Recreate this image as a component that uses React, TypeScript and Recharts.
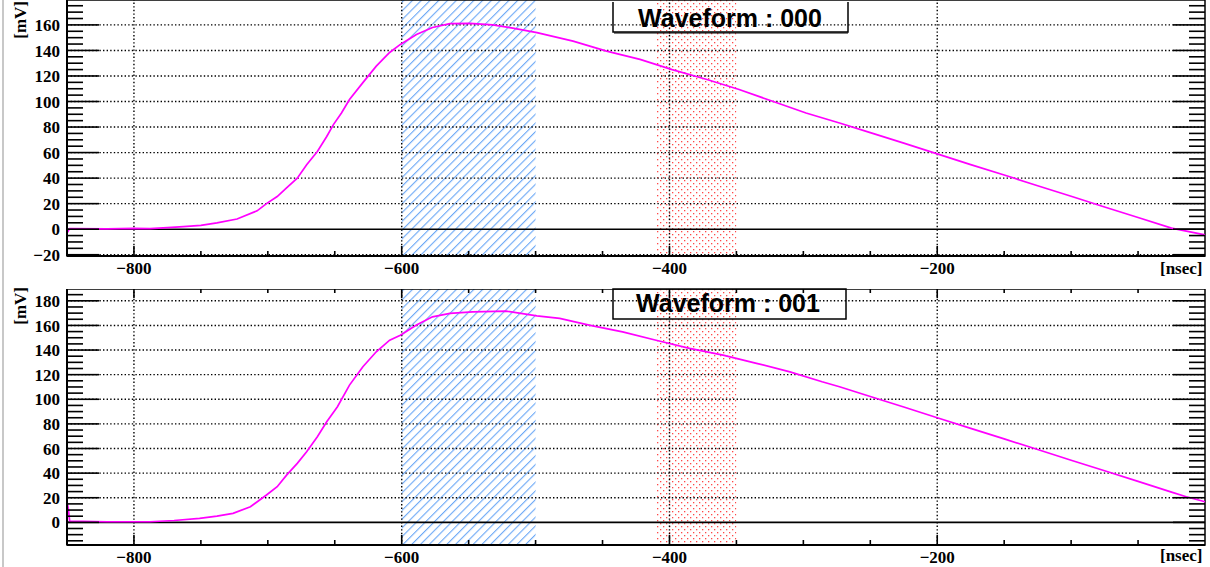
import React from 'react';
import { LineChart, Line, XAxis, YAxis, ReferenceLine, ReferenceArea } from 'recharts';

// sample times [nsec] and amplitudes [mV] of the two digitized waveforms
const waveform000Ns = [
  -850, -848, -820, -800, -788, -775, -763, -750, -738, -723, -708, -701, -693, -686, -678, -671,
  -663, -656, -651, -645, -639, -629, -619, -609, -601, -589, -577, -564, -549, -532, -517, -499,
  -472, -447, -422, -398, -372, -348, -323, -298, -273, -250, -225, -200, -175, -150, -125, -100,
  -75, -50, -25, 0,
];
const waveform000MV = [
  -3, 0.5, 0.3, 0.6, 0.5, 1.2, 2, 3, 5, 8, 14.4, 20, 25.6, 32.4, 40, 50.5,
  60.8, 72.6, 81.9, 91, 101.5, 114.8, 127.7, 138.4, 144.7, 152.5, 158, 161, 161.2, 160, 157.5, 154,
  147.3, 139.5, 133, 125, 117.2, 109.4, 100.2, 91, 83.2, 75.6, 67.4, 59, 50.6, 42.4, 34, 25.8,
  17.4, 9.2, 0.8, -4.5,
];

const waveform001Ns = [
  -850, -849, -848, -820, -800, -788, -770, -751, -738, -726, -713, -701, -693, -686, -678, -671,
  -663, -656, -648, -639, -629, -619, -609, -601, -589, -577, -564, -547, -522, -499, -482, -460,
  -435, -410, -385, -360, -335, -310, -286, -273, -250, -225, -200, -175, -150, -125, -100, -75,
  -50, -25, -14, 0,
];
const waveform001MV = [
  17, 11, 1, 0.5, 0.5, 0.5, 1.5, 3.2, 5, 7.3, 12.7, 22.2, 29, 38.4, 47.9, 57.4,
  69.5, 81.7, 93.9, 111.5, 126.4, 138.6, 148, 152, 160.3, 167, 169.8, 171, 171.6, 167.8, 165.7, 160.3,
  154.8, 148, 141.3, 135.9, 129.2, 122.3, 114.2, 110.2, 102.3, 93.7, 85, 76.4, 67.8, 59.2, 50.5, 41.9,
  33.3, 24.6, 20.8, 16.7,
];

// integration windows [nsec]
const signalWindow = [-600, -500];
const pedestalWindow = [-410, -350];

const xRange = [-850, 0];
const xMajorTicks = [-800, -600, -400, -200];
const yLabels000 = [-20, 0, 20, 40, 60, 80, 100, 120, 140, 160];
const yLabels001 = [0, 20, 40, 60, 80, 100, 120, 140, 160, 180];
const yRange000 = [-21, 179.5];
const yRange001 = [-18.4, 189.6];

const W = 1210;
const PLOT_LEFT = 67;
const PLOT_RIGHT = 1205;
const PLOT_H = 256;
const AXIS_H = 31;
const PANEL_TOPS = [0, 289];

const SERIF = '"Liberation Serif", "Times New Roman", serif';
const SANS = '"Liberation Sans", Arial, Helvetica, sans-serif';

const steps = (from: number, to: number, step: number) => {
  const out: number[] = [];
  for (let v = from; v <= to + 1e-9; v += step) out.push(v);
  return out;
};

const fmt = (v: number) => String(v).replace('-', '\u2212');

function makeYTick(majors: number[]) {
  return (props: any) => {
    const y = props.y;
    const v = props.payload.value;
    const major = majors.includes(v);
    const len = major ? 32 : 16;
    return (
      <g>
        <line x1={PLOT_LEFT} x2={PLOT_LEFT + len} y1={y} y2={y} stroke="#000" strokeWidth={1.6} />
        <line x1={PLOT_RIGHT - len} x2={PLOT_RIGHT} y1={y} y2={y} stroke="#000" strokeWidth={1.6} />
        {major && (
          <text x={PLOT_LEFT - 7} y={y} dy="0.36em" textAnchor="end" fontFamily={SERIF} fontWeight="bold" fontSize={17} fill="#000">
            {fmt(v)}
          </text>
        )}
      </g>
    );
  };
}

function makeXTick(withTop: boolean) {
  return (props: any) => {
    const x = props.x;
    const v = props.payload.value;
    const major = xMajorTicks.includes(v);
    const len = major ? 10 : 5;
    return (
      <g>
        <line x1={x} x2={x} y1={PLOT_H} y2={PLOT_H - len} stroke="#000" strokeWidth={1.6} />
        {withTop && <line x1={x} x2={x} y1={0} y2={major ? 9 : 4} stroke="#000" strokeWidth={1.6} />}
        {major && (
          <text x={x} y={PLOT_H + 18} textAnchor="middle" fontFamily={SERIF} fontWeight="bold" fontSize={17} fill="#000">
            {fmt(v)}
          </text>
        )}
      </g>
    );
  };
}

interface PanelProps {
  ns: number[];
  mv: number[];
  yRange: number[];
  yLabels: number[];
  top: number;
  withTopTicks: boolean;
}

function WavePanel({ ns, mv, yRange, yLabels, top, withTopTicks }: PanelProps) {
  const data = ns.map((t, i) => ({ ns: t, mV: mv[i] }));
  const yTicks = steps(Math.ceil(yRange[0] / 5) * 5, Math.floor(yRange[1] / 5) * 5, 5);
  const xTicks = steps(-800, -50, 50);
  return (
    <div style={{ position: 'absolute', left: 0, top }}>
      <LineChart width={W} height={PLOT_H + AXIS_H} data={data} margin={{ top: 0, right: W - PLOT_RIGHT, bottom: 0, left: 0 }}>
        <ReferenceArea x1={signalWindow[0]} x2={signalWindow[1]} y1={yRange[0]} y2={yRange[1]} fill="url(#hatchBlue)" fillOpacity={1} stroke="none" />
        <ReferenceArea x1={pedestalWindow[0]} x2={pedestalWindow[1]} y1={yRange[0]} y2={yRange[1]} fill="url(#dotsRed)" fillOpacity={1} stroke="none" />
        {yLabels.filter((v) => v !== 0).map((v) => (
          <ReferenceLine key={'gy' + v} y={v} stroke="#000" strokeWidth={1.4} strokeDasharray="1.4 2.2" />
        ))}
        {xMajorTicks.map((v) => (
          <ReferenceLine key={'gx' + v} x={v} stroke="#000" strokeWidth={1.4} strokeDasharray="1.4 2.2" />
        ))}
        <ReferenceLine y={0} stroke="#000" strokeWidth={1.6} />
        <XAxis
          dataKey="ns"
          type="number"
          domain={xRange}
          ticks={xTicks}
          interval={0}
          height={AXIS_H}
          tickLine={false}
          axisLine={{ stroke: '#000', strokeWidth: 2 }}
          tick={makeXTick(withTopTicks)}
        />
        <YAxis
          type="number"
          domain={yRange}
          allowDataOverflow
          ticks={yTicks}
          interval={0}
          width={PLOT_LEFT}
          tickLine={false}
          axisLine={{ stroke: '#000', strokeWidth: 2 }}
          tick={makeYTick(yLabels)}
        />
        <Line dataKey="mV" type="linear" stroke="#ff00ff" strokeWidth={1.7} dot={false} isAnimationActive={false} />
        <ReferenceArea x1={xRange[0]} x2={xRange[1]} y1={yRange[0]} y2={yRange[1]} fill="none" stroke="#000" strokeWidth={1.5} />
      </LineChart>
    </div>
  );
}

export default function App() {
  return (
    <div style={{ position: 'fixed', left: 0, top: 0, width: W, height: 567, background: '#fff', overflow: 'hidden' }}>
      <svg width={0} height={0} style={{ position: 'absolute' }}>
        <defs>
          <pattern id="hatchBlue" patternUnits="userSpaceOnUse" width={6.2} height={6.2} patternTransform="rotate(45)">
            <line x1={0.6} y1={0} x2={0.6} y2={6.2} stroke="#5b9ef5" strokeWidth={1} />
          </pattern>
          <pattern id="dotsRed" patternUnits="userSpaceOnUse" width={6} height={6}>
            <rect x={0} y={0} width={1.3} height={1.3} fill="#ff4848" />
            <rect x={3} y={3} width={1.3} height={1.3} fill="#ff4848" />
          </pattern>
        </defs>
      </svg>

      <WavePanel ns={waveform000Ns} mv={waveform000MV} yRange={yRange000} yLabels={yLabels000} top={PANEL_TOPS[0]} withTopTicks={false} />
      <WavePanel ns={waveform001Ns} mv={waveform001MV} yRange={yRange001} yLabels={yLabels001} top={PANEL_TOPS[1]} withTopTicks />

      <svg width={W} height={567} style={{ position: 'absolute', left: 0, top: 0, pointerEvents: 'none' }}>
        <line x1={3} x2={3} y1={0} y2={567} stroke="#c8c8c8" strokeWidth={2} />

        {/* axis titles */}
        <text transform="translate(26, 1) rotate(-90)" textAnchor="end" fontFamily={SERIF} fontWeight="bold" fontSize={17}>[mV]</text>
        <text transform="translate(26, 287) rotate(-90)" textAnchor="end" fontFamily={SERIF} fontWeight="bold" fontSize={17}>[mV]</text>
        <text x={1160} y={274} fontFamily={SERIF} fontWeight="bold" fontSize={17}>[nsec]</text>
        <text x={1160} y={561} fontFamily={SERIF} fontWeight="bold" fontSize={17}>[nsec]</text>

        {/* waveform titles */}
        <path d="M613,2 V32 H848 V2" fill="none" stroke="#000" strokeWidth={1.5} />
        <line x1={614} x2={848} y1={33} y2={33} stroke="#000" strokeWidth={1} />
        <text x={730} y={27} textAnchor="middle" fontFamily={SANS} fontWeight="bold" fontSize={25} fill="#000">Waveform : 000</text>
        <rect x={613} y={289} width={233} height={30} fill="none" stroke="#000" strokeWidth={1.5} />
        <text x={728} y={312} textAnchor="middle" fontFamily={SANS} fontWeight="bold" fontSize={25} fill="#000">Waveform : 001</text>
      </svg>
    </div>
  );
}
